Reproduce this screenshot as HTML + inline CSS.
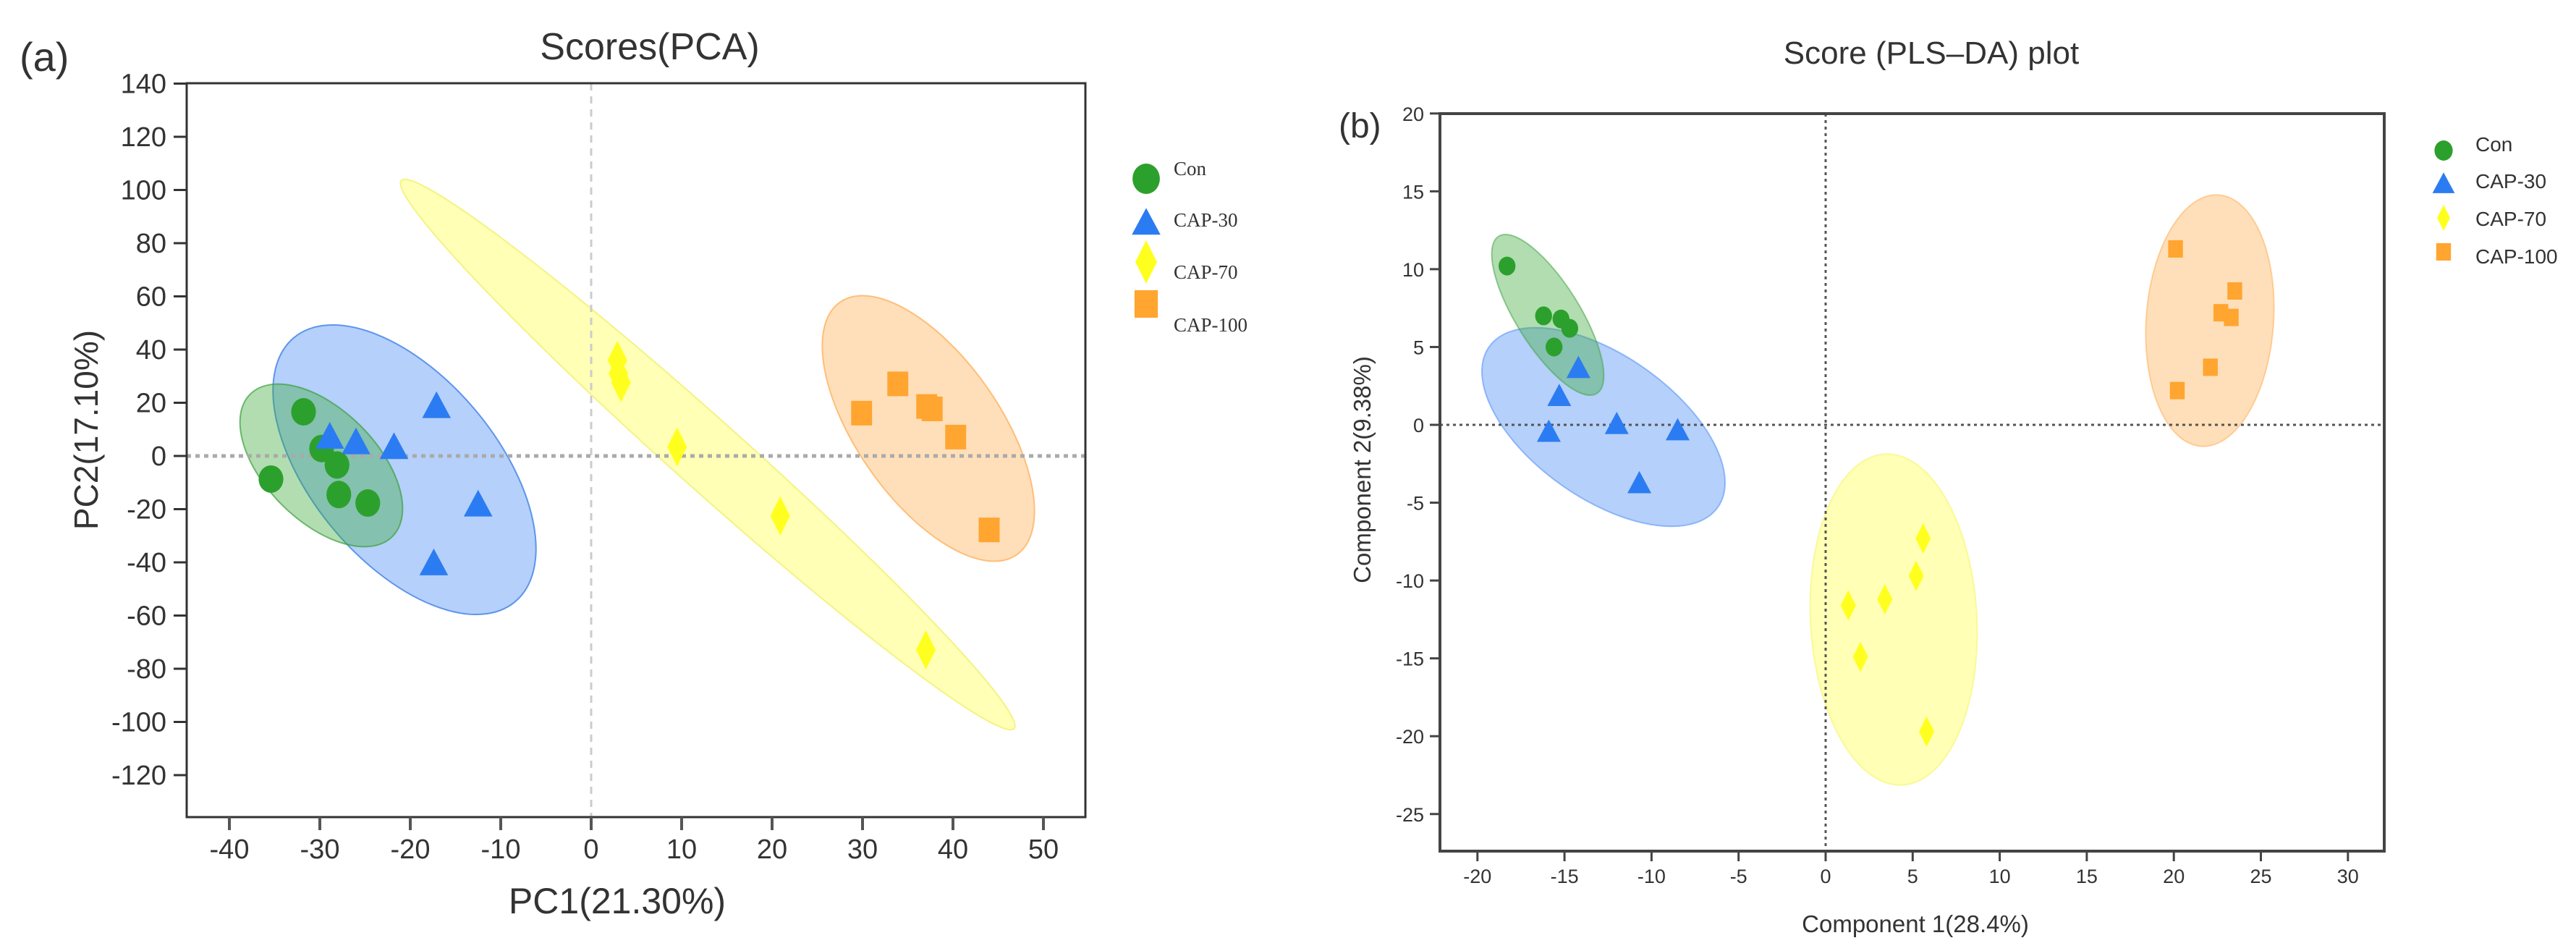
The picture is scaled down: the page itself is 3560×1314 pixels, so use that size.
<!DOCTYPE html>
<html><head><meta charset="utf-8"><style>
html,body{margin:0;padding:0;background:#fff;}
svg{display:block;}
text{font-family:"Liberation Sans",sans-serif;fill:#333;}
</style></head><body>
<svg id="fig" width="3560" height="1314" viewBox="0 0 3560 1314" xmlns="http://www.w3.org/2000/svg">
<g id="pA"></g>
<g id="pB"></g>
</svg>
<script>
// ---------- Panel (a) PCA data ----------
const pcaXTicks = [-40,-30,-20,-10,0,10,20,30,40,50];
const pcaYTicks = [140,120,100,80,60,40,20,0,-20,-40,-60,-80,-100,-120];
const pcaConX = [-35.4,-31.8,-29.8,-28.1,-27.9,-24.7];
const pcaConY = [-8.7,16.6,2.8,-3.4,-14.5,-17.7];
const pcaC30X = [-28.9,-26.0,-21.8,-17.1,-12.5,-17.4];
const pcaC30Y = [6.9,4.8,3.0,18.4,-18.6,-40.7];
const pcaC70X = [2.9,3.0,3.3,9.5,20.9,37.0];
const pcaC70Y = [36,31,27.6,3.4,-22.5,-72.9];
const pcaC100X = [29.9,33.9,37.1,37.7,40.3,44.0];
const pcaC100Y = [16.1,27.1,18.6,17.7,7.1,-27.8];

// ---------- Panel (b) PLS-DA data ----------
const plsXTicks = [-20,-15,-10,-5,0,5,10,15,20,25,30];
const plsYTicks = [20,15,10,5,0,-5,-10,-15,-20,-25];
const plsConX = [-18.3,-16.2,-15.2,-14.7,-15.6];
const plsConY = [10.2,7.0,6.8,6.2,5.0];
const plsC30X = [-14.2,-15.3,-15.9,-12.0,-8.5,-10.7];
const plsC30Y = [3.6,1.8,-0.5,0,-0.4,-3.8];
const plsC70X = [5.6,5.2,3.4,1.3,2.0,5.8];
const plsC70Y = [-7.3,-9.7,-11.2,-11.6,-14.9,-19.7];
const plsC100X = [20.1,23.5,22.7,23.3,22.1,20.2];
const plsC100Y = [11.3,8.6,7.2,6.9,3.7,2.2];

const NS='http://www.w3.org/2000/svg';
function mk(parent,tag,attrs,txt){const e=document.createElementNS(NS,tag);for(const k in attrs)e.setAttribute(k,attrs[k]);if(txt!==undefined)e.textContent=txt;parent.appendChild(e);return e;}

const COL={con:'#2ca02c',c30:'#2b7cf2',c70:'#ffff1f',c100:'#ffa530'};

const ax = {x0:817, xs:12.5, y0:630, ys:3.675};
const bx = {x0:2523, xs:24.06, y0:587, ys:21.51};
function sxA(v){return ax.x0+v*ax.xs;} function syA(v){return ax.y0-v*ax.ys;}
function sxB(v){return bx.x0+v*bx.xs;} function syB(v){return bx.y0-v*bx.ys;}

function marker(g,type,x,y,r,color,name){
  let e;
  if(type==='circle') e=mk(g,'ellipse',{cx:x,cy:y,rx:r*0.9,ry:r,fill:color});
  else if(type==='tri') e=mk(g,'polygon',{points:`${x},${y-r*1.2} ${x+r*1.1},${y+r*0.85} ${x-r*1.1},${y+r*0.85}`,fill:color});
  else if(type==='dia') e=mk(g,'polygon',{points:`${x},${y-r*1.5} ${x+r*0.75},${y} ${x},${y+r*1.5} ${x-r*0.75},${y}`,fill:color});
  else e=mk(g,'rect',{x:x-r*0.85,y:y-r,width:r*1.7,height:r*2,fill:color});
  
  
  return e;
}
function ell(g,cx,cy,a,b,ang,fill,stroke,name){
  const e=mk(g,'ellipse',{cx:cx,cy:cy,rx:a,ry:b,transform:`rotate(${ang} ${cx} ${cy})`,fill:fill,stroke:stroke,'stroke-width':2});
  
  
}

// ===== Panel A =====
(function(){
  const g=document.getElementById('pA');
  const L=258,R=1500,T=115,B=1129;
  let t=mk(g,'text',{x:27,y:98,'font-size':56,fill:'#111'},'(a)');
  
  
  t=mk(g,'text',{x:898,y:82,'font-size':52,'text-anchor':'middle'},'Scores(PCA)');
  
  
  ell(g,978,628,568,48,41.8,'rgba(255,255,90,0.45)','rgba(240,240,110,0.8)','ellipse-cap-70');
  ell(g,559,649,238,128,50,'rgba(90,150,245,0.45)','rgba(80,140,235,0.9)','ellipse-cap-30');
  ell(g,444,643,139,77,45,'rgba(60,170,60,0.4)','rgba(60,160,60,0.7)','ellipse-con');
  ell(g,1283,592,213,99,55,'rgba(255,175,80,0.4)','rgba(255,170,80,0.7)','ellipse-cap-100');
  let l=mk(g,'line',{x1:sxA(0),x2:sxA(0),y1:T,y2:B,stroke:'#ccc','stroke-width':3,'stroke-dasharray':'10 8'});
  
  
  l=mk(g,'line',{x1:L,x2:R,y1:syA(0),y2:syA(0),stroke:'#aaa','stroke-width':5,'stroke-dasharray':'6 6'});
  
  
  for(let i=0;i<pcaConX.length;i++) marker(g,'circle',sxA(pcaConX[i]),syA(pcaConY[i]),19,COL.con,'point-con');
  for(let i=0;i<pcaC30X.length;i++) marker(g,'tri',sxA(pcaC30X[i]),syA(pcaC30Y[i]),18,COL.c30,'point-cap-30');
  for(let i=0;i<pcaC70X.length;i++) marker(g,'dia',sxA(pcaC70X[i]),syA(pcaC70Y[i]),18,COL.c70,'point-cap-70');
  for(let i=0;i<pcaC100X.length;i++) marker(g,'sq',sxA(pcaC100X[i]),syA(pcaC100Y[i]),17,COL.c100,'point-cap-100');
  const f=mk(g,'rect',{x:L,y:T,width:R-L,height:B-T,fill:'none',stroke:'#333','stroke-width':3});
  
  
  pcaXTicks.forEach(v=>{const x=sxA(v);
    mk(g,'line',{x1:x,x2:x,y1:B,y2:B+18,stroke:'#555','stroke-width':4});
    const tx=mk(g,'text',{x:x,y:1186,'font-size':38,'text-anchor':'middle'},String(v));
    
    });
  pcaYTicks.forEach(v=>{const y=syA(v);
    mk(g,'line',{x1:L-18,x2:L,y1:y,y2:y,stroke:'#333','stroke-width':3});
    const tx=mk(g,'text',{x:230,y:y+13,'font-size':38,'text-anchor':'end'},String(v));
    
    });
  t=mk(g,'text',{x:853,y:1262,'font-size':50,'text-anchor':'middle'},'PC1(21.30%)');
  
  
  t=mk(g,'text',{x:0,y:0,'font-size':46,'text-anchor':'middle',transform:'translate(135 594) rotate(-90)'},'PC2(17.10%)');
  
  
  const lg=mk(g,'g',{});
  
  
  marker(lg,'circle',1584,247,21,COL.con,'legend-marker-con');
  marker(lg,'tri',1584,309,18,COL.c30,'legend-marker-cap-30');
  marker(lg,'dia',1584,362,20,COL.c70,'legend-marker-cap-70');
  marker(lg,'sq',1584,420,19,COL.c100,'legend-marker-cap-100');
  [['Con',242],['CAP-30',313],['CAP-70',385],['CAP-100',458]].forEach(a=>{
    const tx=mk(lg,'text',{x:1622,y:a[1],'font-size':27,style:'font-family:"Liberation Serif",serif'},a[0]);
    
    });
})();

// ===== Panel B =====
(function(){
  const g=document.getElementById('pB');
  const L=1990,R=3295,T=157,B=1176;
  let t=mk(g,'text',{x:1850,y:190,'font-size':48,fill:'#111'},'(b)');
  
  
  t=mk(g,'text',{x:2669,y:88,'font-size':44,'text-anchor':'middle'},'Score (PLS\u2013DA) plot');
  
  
  ell(g,2216,590,193,99,35,'rgba(90,150,245,0.45)','rgba(90,150,245,0.6)','ellipse-cap-30');
  ell(g,2139,435,128,44,58,'rgba(60,170,60,0.4)','rgba(60,160,60,0.5)','ellipse-con');
  ell(g,2617,856,115,229,-3,'rgba(255,255,90,0.45)','rgba(245,245,110,0.6)','ellipse-cap-70');
  ell(g,3054,443,88,174,4,'rgba(255,175,80,0.4)','rgba(255,170,80,0.5)','ellipse-cap-100');
  let l=mk(g,'line',{x1:sxB(0),x2:sxB(0),y1:T,y2:B,stroke:'#555','stroke-width':3,'stroke-dasharray':'4 5'});
  
  
  l=mk(g,'line',{x1:L,x2:R,y1:syB(0),y2:syB(0),stroke:'#555','stroke-width':3,'stroke-dasharray':'4 5'});
  
  
  for(let i=0;i<plsConX.length;i++) marker(g,'circle',sxB(plsConX[i]),syB(plsConY[i]),13,COL.con,'point-con');
  for(let i=0;i<plsC30X.length;i++) marker(g,'tri',sxB(plsC30X[i]),syB(plsC30Y[i]),15,COL.c30,'point-cap-30');
  for(let i=0;i<plsC70X.length;i++) marker(g,'dia',sxB(plsC70X[i]),syB(plsC70Y[i]),14,COL.c70,'point-cap-70');
  for(let i=0;i<plsC100X.length;i++) marker(g,'sq',sxB(plsC100X[i]),syB(plsC100Y[i]),12,COL.c100,'point-cap-100');
  const f=mk(g,'rect',{x:L,y:T,width:R-L,height:B-T,fill:'none',stroke:'#444','stroke-width':4});
  
  
  plsXTicks.forEach(v=>{const x=sxB(v);
    mk(g,'line',{x1:x,x2:x,y1:B,y2:B+14,stroke:'#444','stroke-width':3});
    const tx=mk(g,'text',{x:x,y:1220,'font-size':27,'text-anchor':'middle'},String(v));
    
    });
  plsYTicks.forEach(v=>{const y=syB(v);
    mk(g,'line',{x1:L-14,x2:L,y1:y,y2:y,stroke:'#444','stroke-width':3});
    const tx=mk(g,'text',{x:1968,y:y+10,'font-size':27,'text-anchor':'end'},String(v));
    
    });
  t=mk(g,'text',{x:2647,y:1288,'font-size':33,'text-anchor':'middle'},'Component 1(28.4%)');
  
  
  t=mk(g,'text',{x:0,y:0,'font-size':33,'text-anchor':'middle',transform:'translate(1894 649) rotate(-90)'},'Component 2(9.38%)');
  
  
  const lg=mk(g,'g',{});
  
  
  marker(lg,'circle',3377,208,14,COL.con,'legend-marker-con');
  marker(lg,'tri',3377,255,14,COL.c30,'legend-marker-cap-30');
  marker(lg,'dia',3377,301,12,COL.c70,'legend-marker-cap-70');
  marker(lg,'sq',3377,348,12,COL.c100,'legend-marker-cap-100');
  [['Con',206],['CAP-30',257],['CAP-70',309],['CAP-100',361]].forEach(a=>{
    const tx=mk(lg,'text',{x:3421,y:a[1]+3,'font-size':28},a[0]);
    
    });
})();
</script>
</body></html>
